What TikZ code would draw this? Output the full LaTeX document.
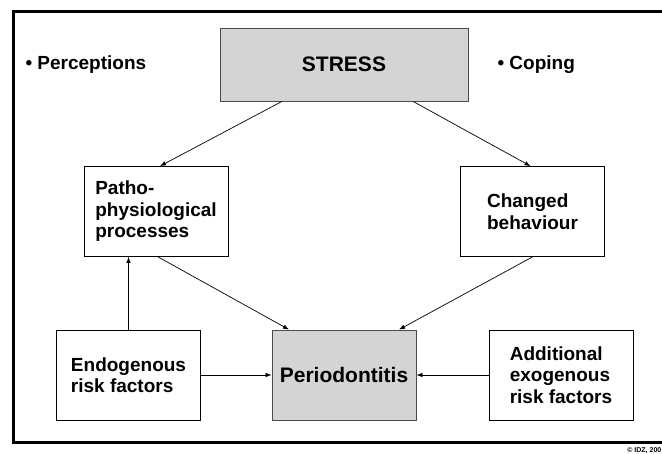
\documentclass[tikz,border=0pt]{standalone}
\usepackage{fontspec}
\setmainfont{Liberation Sans}
\usetikzlibrary{arrows.meta}

\tikzset{
	box/.style={draw,line width=0.8pt,minimum width=144pt,minimum height=90pt,align=left,inner sep=0pt,
		font=\bfseries\fontsize{19}{21.5}\selectfont},
	shaded/.style={box,fill=black!17,draw=black!70},
	arr/.style={-{Latex[length=6pt,width=4.5pt]},line width=0.7pt},
	note/.style={anchor=west,font=\bfseries\fontsize{19}{21.5}\selectfont}
}

\begin{document}
\begin{tikzpicture}[x=1pt,y=-1pt] %[scale=1.2]
	\useasboundingbox (0,0) rectangle (662,454);
	% frame, open to the right
	\draw[line width=3pt] (662,12) -- (13.5,12) -- (13.5,443) -- (662,443);
	\node[anchor=south east,inner sep=0.5pt,font=\bfseries\fontsize{7}{7}\selectfont] (copy) at (662,454) {\textcopyright\ IDZ, 200};

	\node[shaded,minimum width=248pt,minimum height=73pt,font=\bfseries\fontsize{21}{21}\selectfont] (stress) at (344,64.5) {STRESS};
	\node[note] (perc) at (22,64.5) {\textbullet\ Perceptions};
	\node[note] (cop) at (494,64.5) {\textbullet\ Coping};

	\node[box] (patho) at (156,211.5) {Patho-\\physiological\\processes};
	\node[box] (behav) at (532.5,211.5) {Changed\\behaviour};

	\node[box] (endo) at (128.5,375) {Endogenous\\risk factors};
	\node[shaded,font=\bfseries\fontsize{21}{21}\selectfont] (perio) at (344,375) {Periodontitis};
	\node[box] (exo) at (561,375) {Additional\\exogenous\\risk factors};

	\draw[arr] ([xshift=-62pt]stress.south) -- ([xshift=4pt]patho.north);
	\draw[arr] ([xshift=69pt]stress.south) -- ([xshift=-2pt]behav.north);
	\draw[arr] ([xshift=2pt]patho.south) -- ([xshift=-55pt]perio.north);
	\draw[arr] (behav.south) -- ([xshift=55pt]perio.north);
	\draw[arr] (endo.north) -- (endo.north |- patho.south);
	\draw[arr] (endo.east) -- (perio.west);
	\draw[arr] (exo.west) -- (perio.east);
\end{tikzpicture}
\end{document}
